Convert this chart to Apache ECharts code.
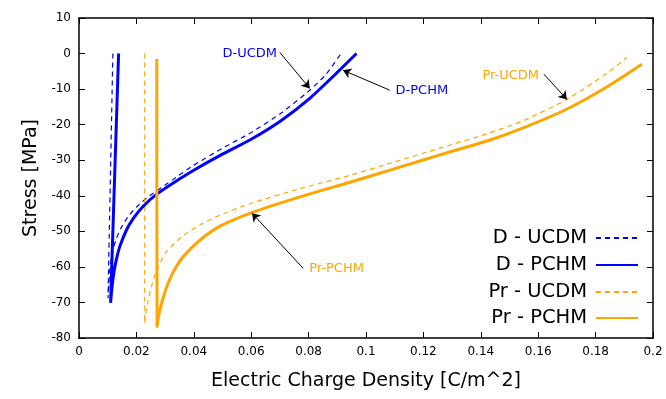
<!DOCTYPE html>
<html><head><meta charset="utf-8">
<script src="https://cdn.jsdelivr.net/npm/echarts@6/dist/echarts.min.js"></script>
<style>html,body{margin:0;padding:0;background:#fff}#c{width:666px;height:399px}</style>
</head><body><div id="c"></div>
<script>
// ---- data ----
const dUcdm = [[0.0118,0],[0.0101,-68.8],[0.0104,-64.5],[0.0108,-60.5],[0.0115,-56.5],[0.0128,-52.5],[0.0145,-49.3],[0.0170,-46.0],[0.020,-43.2],[0.0246,-40.0],[0.030,-37.0],[0.034,-34.7],[0.040,-31.4],[0.050,-26.6],[0.060,-22.2],[0.070,-17.0],[0.080,-10.6],[0.086,-5.9],[0.0913,0]];
const dPchm = [[0.0138,0],[0.0110,-70.1],[0.0114,-66.5],[0.0118,-63.6],[0.0124,-60.4],[0.0132,-57.3],[0.0142,-54.3],[0.0165,-49.7],[0.0188,-46.5],[0.0223,-43.0],[0.027,-39.6],[0.035,-35.3],[0.040,-32.8],[0.050,-28.3],[0.060,-24.1],[0.070,-19.1],[0.080,-12.9],[0.090,-5.3],[0.0967,0]];
const prUcdm = [[0.0229,0],[0.0229,-75.8],[0.0233,-73],[0.0240,-69.8],[0.0252,-65.6],[0.0270,-61],[0.0304,-55.8],[0.0362,-51.3],[0.0421,-48.2],[0.049,-45.5],[0.060,-42.1],[0.077,-38.0],[0.092,-34.8],[0.1095,-30.6],[0.1258,-26.6],[0.1432,-22.3],[0.1548,-18.9],[0.170,-12.9],[0.1839,-5.6],[0.1909,-1.1]];
const prPchm = [[0.0271,-1.5],[0.0272,-76.8],[0.0277,-74.0],[0.0287,-70.5],[0.0304,-66.0],[0.0328,-61.5],[0.0362,-57.2],[0.0421,-52.5],[0.049,-48.6],[0.060,-44.8],[0.077,-40.3],[0.0944,-36.2],[0.1095,-32.5],[0.1258,-28.5],[0.1432,-24.3],[0.1548,-20.9],[0.170,-15.6],[0.1839,-9.4],[0.1961,-3.0]];

const seriesNames = ['D - UCDM','D - PCHM','Pr - UCDM','Pr - PCHM'];
// annotations: label text, label anchor, arrow start, arrow tip
const annDUcdm  = {text:'D-UCDM',  at:[0.0690,0.0],  from:[0.0700,0.3],   to:[0.0804,-9.8]};
const annDPchm  = {text:'D-PCHM',  at:[0.1103,-10.3],from:[0.1083,-10.3], to:[0.0920,-4.7]};
const annPrUcdm = {text:'Pr-UCDM', at:[0.1603,-6.1], from:[0.1620,-5.8],  to:[0.1700,-12.9]};
const annPrPchm = {text:'Pr-PCHM', at:[0.0802,-60.4],from:[0.0781,-60.4], to:[0.0603,-44.9]};

const xMin = 0, xMax = 0.2, xStep = 0.02;
const yMin = -80, yMax = 10, yStep = 10;

// ---- chart ----
const FONT = 'DejaVu Sans';
const BLUE = '#0000ff', ORANGE = '#ffa500';
const chart = echarts.init(document.getElementById('c'), null, {renderer:'canvas'});

function ann(a, color, side) {
  return {
    markLine: {
      silent: true, animation: false,
      symbol: ['none','arrow'], symbolSize: 8,
      lineStyle: {color:'#000', width:1, type:'solid'},
      label: {show:false},
      emphasis: {disabled:true},
      data: [[{coord:a.from},{coord:a.to}]]
    },
    markPoint: {
      silent: true, animation: false,
      symbol: 'circle', symbolSize: 0,
      label: {show:true, position: side, distance: 0, formatter: a.text,
              color: color, fontSize: 13, fontFamily: FONT},
      data: [{coord: a.at}]
    }
  };
}

const axisCommon = {
  type:'value', splitLine:{show:false},
  axisLine:{show:true, onZero:false, lineStyle:{color:'#000', width:1.5}},
  axisTick:{show:true, inside:true, length:6, lineStyle:{color:'#000', width:1}}
};
const fmt = v => String(parseFloat(Number(v).toFixed(4)));

function lineSeries(i, data, color, width, dashed, a, side) {
  return Object.assign({
    name: seriesNames[i], type:'line', data: data,
    showSymbol:false, symbol:'none', smooth:0.2, color: color,
    lineStyle:{color: color, width: width, type: dashed ? [5,4] : 'solid'},
    z: dashed ? 2 : 3
  }, ann(a, color, side));
}

const option = {
  animation: false,
  backgroundColor: '#fff',
  grid: {left:79, right:13, top:18, bottom:61, containLabel:false, outerBoundsMode:'none'},
  xAxis: [
    Object.assign({}, axisCommon, {position:'bottom', min:xMin, max:xMax, interval:xStep,
      name:'Electric Charge Density [C/m^2]', nameLocation:'middle', nameGap:34,
      nameTextStyle:{fontSize:19, fontFamily:FONT, color:'#000'},
      axisLabel:{show:true, margin:8, fontSize:12, fontFamily:FONT, color:'#000', formatter: fmt}}),
    Object.assign({}, axisCommon, {position:'top', min:xMin, max:xMax, interval:xStep, axisLabel:{show:false}})
  ],
  yAxis: [
    Object.assign({}, axisCommon, {position:'left', min:yMin, max:yMax, interval:yStep,
      name:'Stress [MPa]', nameLocation:'middle', nameGap:38,
      nameTextStyle:{fontSize:19, fontFamily:FONT, color:'#000'},
      axisLabel:{show:true, margin:8, fontSize:12, fontFamily:FONT, color:'#000'}}),
    Object.assign({}, axisCommon, {position:'right', min:yMin, max:yMax, interval:yStep, axisLabel:{show:false}})
  ],
  legend: seriesNames.map((n, i) => ({
    data:[n], right:27, top:[228,255,282,308][i], align:'right', padding:0,
    itemWidth:42, itemHeight:14, selectedMode:false,
    itemStyle:{opacity:0, color:'rgba(0,0,0,0)', borderWidth:0},
    textStyle:{fontSize:19.5, fontFamily:FONT, color:'#000', lineHeight:20, padding:[0,4,0,0]}
  })),
  series: [
    lineSeries(0, dUcdm, BLUE, 1.2, true, annDUcdm, 'left'),
    lineSeries(1, dPchm, BLUE, 3, false, annDPchm, 'right'),
    lineSeries(2, prUcdm, ORANGE, 1.2, true, annPrUcdm, 'left'),
    lineSeries(3, prPchm, ORANGE, 3, false, annPrPchm, 'right')
  ]
};
chart.setOption(option);
</script>
</body></html>
